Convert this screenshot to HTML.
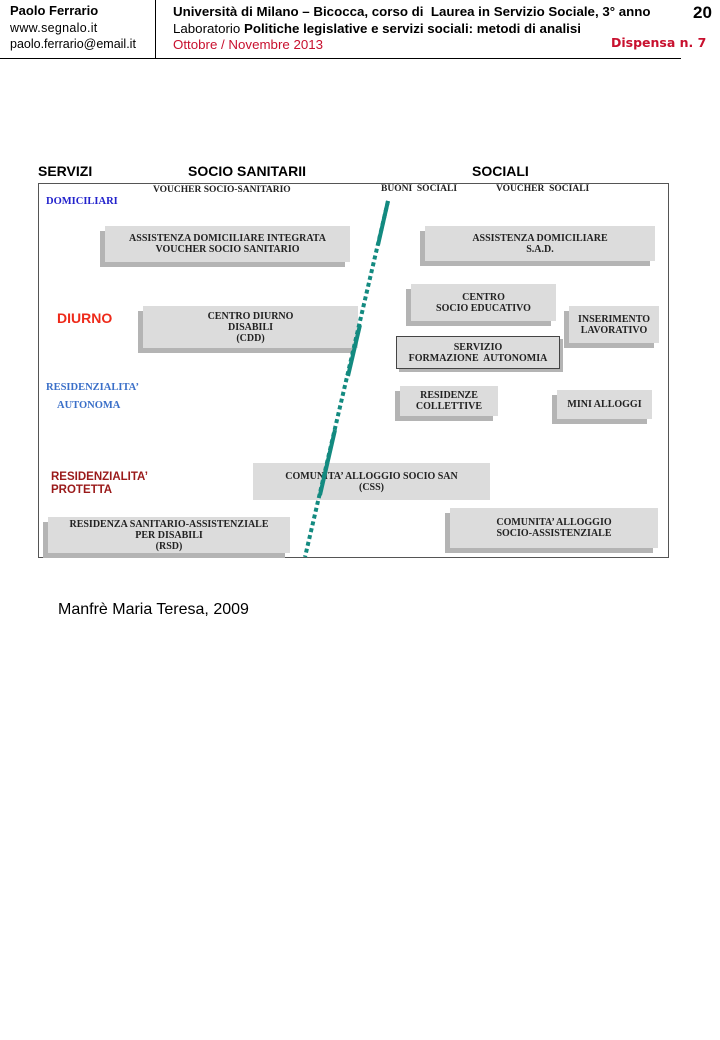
<!DOCTYPE html>
<html><head><meta charset="utf-8"><style>
body{margin:0;width:720px;height:1040px;background:#fff;position:relative;overflow:hidden;font-family:"Liberation Sans",sans-serif}
.a{position:absolute;white-space:nowrap}
.b{position:absolute;background:#dcdcdc;box-shadow:-5px 5px 0 #b4b4b4;font-family:"Liberation Serif",serif;font-weight:bold;font-size:10px;text-align:center;line-height:11px;color:#222;display:flex;flex-direction:column;justify-content:center}
.s{font-family:"Liberation Serif",serif;font-weight:bold;font-size:9.5px;color:#222}
.h{font-weight:bold;font-size:14px}
</style></head><body>
<div class="a" style="left:10px;top:3px;font-size:13px;font-weight:bold">Paolo Ferrario</div>
<div class="a" style="left:10px;top:21px;font-size:12.5px;letter-spacing:0.3px">www.segnalo.it</div>
<div class="a" style="left:10px;top:37px;font-size:12.5px">paolo.ferrario@email.it</div>
<div class="a" style="left:155px;top:0;width:1px;height:58px;background:#000"></div>
<div class="a" style="left:0;top:58px;width:681px;height:1px;background:#000"></div>
<div class="a" style="left:173px;top:4px;font-size:13.3px;font-weight:bold">Università di Milano – Bicocca, corso di&nbsp; Laurea in Servizio Sociale, 3° anno</div>
<div class="a" style="left:173px;top:21px;font-size:13.3px">Laboratorio <b>Politiche legislative e servizi sociali: metodi di analisi</b></div>
<div class="a" style="left:173px;top:37px;font-size:13.3px;color:#c8102e">Ottobre / Novembre 2013</div>
<div class="a" style="left:693px;top:3px;font-size:17px;font-weight:bold">20</div>
<div class="a" style="left:611px;top:35px;font-size:12.5px;font-weight:bold;color:#c8102e;font-family:'DejaVu Sans',sans-serif">Dispensa n. 7</div>

<div class="a h" style="left:38px;top:163px">SERVIZI</div>
<div class="a h" style="left:188px;top:163px">SOCIO SANITARII</div>
<div class="a h" style="left:472px;top:163px">SOCIALI</div>
<div class="a" style="left:38px;top:183px;width:629px;height:373px;border:1.5px solid #555"></div>
<div class="a s" style="left:153px;top:185px">VOUCHER SOCIO-SANITARIO</div>
<div class="a s" style="left:381px;top:184px">BUONI&nbsp; SOCIALI</div>
<div class="a s" style="left:496px;top:184px">VOUCHER&nbsp; SOCIALI</div>
<div class="a s" style="left:46px;top:196px;color:#2222cc;font-size:10.5px">DOMICILIARI</div>
<div class="a" style="left:57px;top:310px;color:#ee2a1a;font-weight:bold;font-size:14px">DIURNO</div>
<div class="a s" style="left:46px;top:382px;color:#3a6fc8;font-size:10.5px">RESIDENZIALITA’</div>
<div class="a s" style="left:57px;top:400px;color:#3a6fc8;font-size:10.5px">AUTONOMA</div>
<div class="a" style="left:51px;top:471px;color:#9a1a1a;font-weight:bold;font-size:11.5px;line-height:13px">RESIDENZIALITA’<br>PROTETTA</div>

<div class="b" style="left:105px;top:226px;width:245px;height:36px">ASSISTENZA DOMICILIARE INTEGRATA<br>VOUCHER SOCIO SANITARIO</div>
<div class="b" style="left:143px;top:306px;width:215px;height:42px">CENTRO DIURNO<br>DISABILI<br>(CDD)</div>
<div class="b" style="left:425px;top:226px;width:230px;height:35px">ASSISTENZA DOMICILIARE<br>S.A.D.</div>
<div class="b" style="left:411px;top:284px;width:145px;height:37px">CENTRO<br>SOCIO EDUCATIVO</div>
<div class="b" style="left:569px;top:306px;width:90px;height:37px">INSERIMENTO<br>LAVORATIVO</div>
<div class="b" style="left:396px;top:336px;width:162px;height:31px;border:1px solid #444;box-shadow:3px 3px 0 #b4b4b4">SERVIZIO<br>FORMAZIONE&nbsp; AUTONOMIA</div>
<div class="b" style="left:400px;top:386px;width:98px;height:30px">RESIDENZE<br>COLLETTIVE</div>
<div class="b" style="left:557px;top:390px;width:95px;height:29px">MINI ALLOGGI</div>
<div class="b" style="left:253px;top:463px;width:237px;height:37px;box-shadow:none">COMUNITA’ ALLOGGIO SOCIO SAN<br>(CSS)</div>
<div class="b" style="left:48px;top:517px;width:242px;height:36px">RESIDENZA SANITARIO-ASSISTENZIALE<br>PER DISABILI<br>(RSD)</div>
<div class="b" style="left:450px;top:508px;width:208px;height:40px">COMUNITA’ ALLOGGIO<br>SOCIO-ASSISTENZIALE</div>

<svg class="a" style="left:0;top:0" width="720" height="1040">
<line x1="388" y1="201" x2="305" y2="557" stroke="#138a80" stroke-width="4" stroke-dasharray="4 3"/>
<line x1="388" y1="201" x2="378" y2="245" stroke="#138a80" stroke-width="4"/>
<line x1="360" y1="325" x2="348" y2="376" stroke="#138a80" stroke-width="4"/>
<line x1="335" y1="430" x2="320" y2="495" stroke="#138a80" stroke-width="4"/>
</svg>

<div class="a" style="left:58px;top:601px;font-size:16px">Manfrè Maria Teresa, 2009</div>
</body></html>
